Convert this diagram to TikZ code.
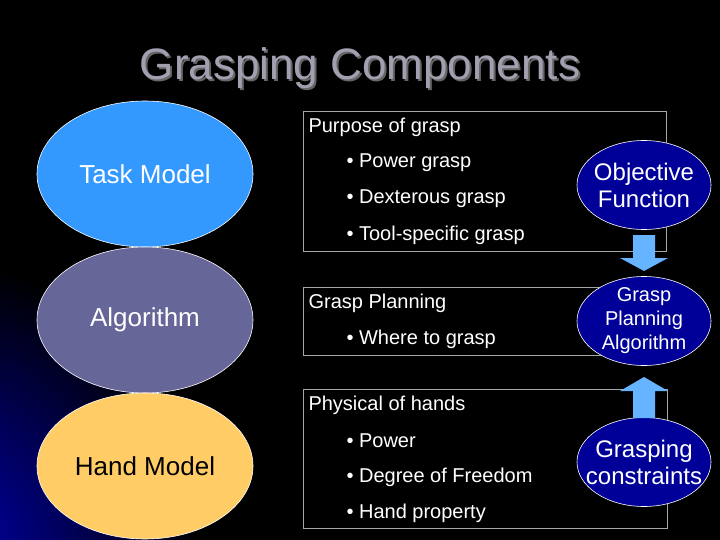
\documentclass[tikz,border=0pt]{standalone}
\usepackage{fontspec}
\setmainfont{Liberation Sans}
\usetikzlibrary{shapes.geometric}
\definecolor{taskc}{HTML}{3399FF}
\definecolor{algc}{HTML}{666699}
\definecolor{handc}{HTML}{FFCC66}
\definecolor{navy}{HTML}{000099}
\definecolor{arrc}{HTML}{66B3FF}
\tikzset{
 bigell/.style={ellipse,draw=white,line width=0.6pt,minimum width=216pt,minimum height=146pt,font=\fontsize{26}{28}\selectfont},
 smell/.style={ellipse,draw=white,line width=0.6pt,fill=navy,text=white,minimum width=134pt,minimum height=89pt,inner sep=-12pt,align=center,font=\fontsize{24}{27}\selectfont},
 smell2/.style={smell,font=\fontsize{20}{24}\selectfont},
 infobox/.style={draw=gray!70,line width=0.6pt},
 hdr/.style={anchor=west,text=white,font=\fontsize{20}{22}\selectfont},
 blt/.style={anchor=west,text=white,font=\fontsize{20}{22}\selectfont},
 barrow/.style={fill=arrc,draw=none}
}
\begin{document}
\begin{tikzpicture}[x=1pt,y=-1pt]
\useasboundingbox (0,0) rectangle (720,540);
\fill[black] (0,0) rectangle (720,540);
\begin{scope}
\clip (0,0) rectangle (720,540);
\shade[inner color=blue!70!black,outer color=black] (-60,560) ellipse (260 and 300);
\end{scope}
\node[text=black!60,font=\fontsize{44}{48}\selectfont] at (362,70) {Grasping Components};
\node (title) [text={rgb,255:red,160;green,160;blue,176},font=\fontsize{44}{48}\selectfont] at (360,68) {Grasping Components};
% boxes
\draw[infobox] (303,111) rectangle (666,251);
\draw[infobox] (303,287) rectangle (666,355);
\draw[infobox] (303,389) rectangle (667,528);
\node[hdr] (h1) at (305,127) {Purpose of grasp};
\node[blt] (b11) at (343,163) {• Power grasp};
\node[blt] (b12) at (343,199) {• Dexterous grasp};
\node[blt] (b13) at (343,235) {• Tool-specific grasp};
\node[hdr] (h2) at (305,303) {Grasp Planning};
\node[blt] (b21) at (343,339) {• Where to grasp};
\node[hdr] (h3) at (305,405) {Physical of hands};
\node[blt] (b31) at (343,441) {• Power};
\node[blt] (b32) at (343,477) {• Degree of Freedom};
\node[blt] (b33) at (343,513) {• Hand property};
% left ellipses
\node[bigell,fill=taskc,text=white] (task) at (145,174) {Task Model};
\node[bigell,fill=algc,text=white] (alg) at (145,320) {Algorithm};
\node[bigell,fill=handc,text=black] (hand) at (145,466) {Hand Model};
% right ellipses
\node[smell] (obj) at (644,185) {Objective\\Function};
\node[smell2] (gpa) at (644,321) {Grasp\\Planning\\Algorithm};
\node[smell] (gc) at (644,462) {Grasping\\constraints};
\fill[barrow] (633,235) -- (655,235) -- (655,258) -- (668,258) -- (644,271) -- (620,258) -- (633,258) -- cycle;
\fill[barrow] (633,418) -- (655,418) -- (655,391) -- (668,391) -- (644,377) -- (620,391) -- (633,391) -- cycle;
\end{tikzpicture}
\end{document}
